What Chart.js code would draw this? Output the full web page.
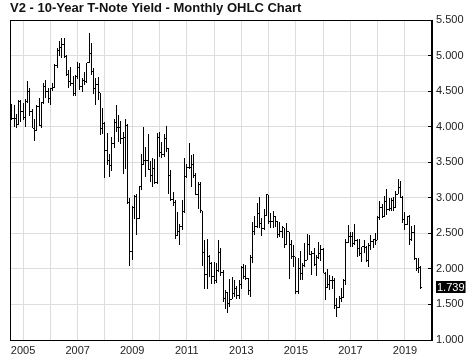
<!DOCTYPE html>
<html>
<head>
<meta charset="utf-8">
<title>V2 - 10-Year T-Note Yield - Monthly OHLC Chart</title>
<script src="https://cdn.jsdelivr.net/npm/chart.js@4.4.1/dist/chart.umd.min.js"></script>
<style>
  html, body { margin: 0; padding: 0; background: #fff; }
</style>
</head>
<body>
<canvas id="ohlcChart" width="474" height="361"></canvas>
<script>
// Monthly bars, first one is Aug 2004
const startYear = 2004;
const startMonth = 8;

const opens = [
  4.30, 4.12, 4.12, 4.03, 4.35,
  4.22, 4.13, 4.36, 4.50, 4.21, 3.98, 3.94, 4.28, 4.02, 4.34, 4.57, 4.49,
  4.39, 4.53, 4.55, 4.86, 5.07, 5.12, 5.15, 4.99, 4.74, 4.64, 4.61, 4.46,
  4.71, 4.83, 4.56, 4.65, 4.63, 4.90, 5.03, 4.78, 4.54, 4.59, 4.48, 3.97,
  4.04, 3.67, 3.53, 3.45, 3.77, 4.06, 3.99, 3.99, 3.83, 3.85, 4.01, 2.93,
  2.25, 2.87, 3.02, 2.71, 3.16, 3.47, 3.53, 3.52, 3.40, 3.31, 3.41, 3.21,
  3.85, 3.63, 3.61, 3.84, 3.69, 3.31, 2.97, 2.94, 2.47, 2.52, 2.60, 2.81,
  3.30, 3.42, 3.42, 3.47, 3.32, 3.05, 3.18, 2.82, 2.23, 1.92, 2.17, 2.08,
  1.89, 1.83, 1.98, 2.23, 1.95, 1.59, 1.67, 1.51, 1.57, 1.65, 1.72, 1.62,
  1.78, 2.02, 1.89, 1.87, 1.70, 2.16, 2.52, 2.60, 2.78, 2.64, 2.57, 2.75,
  3.04, 2.67, 2.66, 2.73, 2.67, 2.48, 2.53, 2.58, 2.35, 2.52, 2.35, 2.18,
  2.17, 1.68, 2.00, 1.94, 2.05, 2.12, 2.35, 2.20, 2.22, 2.06, 2.16, 2.21,
  2.27, 1.94, 1.74, 1.78, 1.83, 1.84, 1.49, 1.46, 1.58, 1.60, 1.84, 2.37,
  2.45, 2.45, 2.36, 2.40, 2.29, 2.21, 2.31, 2.30, 2.12, 2.33, 2.38, 2.42,
  2.40, 2.72, 2.87, 2.74, 2.95, 2.83, 2.85, 2.96, 2.86, 3.05, 3.15, 3.01,
  2.69, 2.63, 2.73, 2.41, 2.51, 2.14, 2.00, 2.02
];

const highs = [
  4.32, 4.30, 4.18, 4.37, 4.37,
  4.33, 4.39, 4.64, 4.55, 4.25, 4.11, 4.30, 4.40, 4.34, 4.61, 4.66, 4.54,
  4.55, 4.62, 4.88, 5.10, 5.20, 5.25, 5.24, 5.01, 4.80, 4.84, 4.71, 4.72,
  4.91, 4.90, 4.68, 4.77, 4.90, 5.32, 5.18, 4.82, 4.69, 4.70, 4.48, 4.26,
  4.07, 3.91, 3.62, 3.85, 4.11, 4.30, 4.16, 4.08, 3.92, 4.11, 4.04, 2.99,
  2.88, 3.04, 3.05, 3.16, 3.62, 4.00, 3.71, 3.90, 3.52, 3.56, 3.54, 3.91,
  3.93, 3.79, 3.90, 4.01, 3.70, 3.39, 3.08, 2.97, 2.80, 2.63, 2.97, 3.56,
  3.48, 3.77, 3.60, 3.62, 3.35, 3.22, 3.22, 2.82, 2.40, 2.42, 2.19, 2.10,
  2.09, 2.08, 2.40, 2.30, 1.98, 1.70, 1.68, 1.86, 1.89, 1.85, 1.76, 1.84,
  2.04, 2.07, 2.06, 1.87, 2.19, 2.66, 2.75, 2.92, 3.01, 2.72, 2.84, 3.05,
  3.04, 2.79, 2.82, 2.75, 2.68, 2.66, 2.60, 2.58, 2.65, 2.52, 2.41, 2.33,
  2.17, 2.16, 2.25, 2.08, 2.36, 2.49, 2.48, 2.25, 2.30, 2.19, 2.38, 2.33,
  2.30, 1.96, 2.00, 1.91, 1.90, 1.87, 1.59, 1.62, 1.73, 1.86, 2.42, 2.62,
  2.52, 2.52, 2.63, 2.42, 2.42, 2.31, 2.40, 2.32, 2.36, 2.48, 2.42, 2.50,
  2.75, 2.95, 2.91, 3.03, 3.13, 3.00, 3.00, 3.01, 3.10, 3.26, 3.24, 3.03,
  2.80, 2.75, 2.76, 2.60, 2.62, 2.16, 2.15, 2.04
];

const lows = [
  4.09, 4.00, 3.98, 4.03, 4.07,
  4.10, 3.99, 4.33, 4.15, 3.98, 3.80, 3.94, 4.01, 3.98, 4.32, 4.40, 4.33,
  4.30, 4.50, 4.55, 4.83, 4.99, 4.96, 4.96, 4.71, 4.55, 4.57, 4.43, 4.43,
  4.67, 4.51, 4.49, 4.59, 4.62, 4.89, 4.72, 4.46, 4.31, 4.37, 3.88, 3.89,
  3.28, 3.46, 3.29, 3.38, 3.70, 3.93, 3.78, 3.76, 3.34, 3.41, 2.91, 2.04,
  2.13, 2.70, 2.48, 2.70, 3.11, 3.46, 3.29, 3.39, 3.22, 3.15, 3.19, 3.19,
  3.57, 3.56, 3.58, 3.65, 3.06, 2.95, 2.88, 2.42, 2.46, 2.33, 2.54, 2.78,
  3.28, 3.40, 3.15, 3.28, 3.04, 2.84, 2.79, 2.04, 1.72, 1.72, 1.89, 1.79,
  1.79, 1.80, 1.96, 1.90, 1.54, 1.44, 1.38, 1.47, 1.57, 1.60, 1.58, 1.58,
  1.72, 1.86, 1.84, 1.63, 1.61, 2.08, 2.47, 2.58, 2.58, 2.46, 2.54, 2.75,
  2.63, 2.57, 2.58, 2.59, 2.43, 2.45, 2.44, 2.30, 2.33, 1.86, 2.14, 2.02,
  1.65, 1.65, 1.85, 1.84, 2.03, 2.12, 2.19, 1.91, 2.04, 1.90, 2.14, 2.11,
  1.94, 1.56, 1.73, 1.70, 1.72, 1.43, 1.32, 1.45, 1.53, 1.59, 1.77, 2.36,
  2.31, 2.31, 2.33, 2.17, 2.18, 2.10, 2.23, 2.10, 2.03, 2.26, 2.30, 2.33,
  2.40, 2.69, 2.71, 2.73, 2.76, 2.82, 2.81, 2.81, 2.85, 3.05, 2.99, 2.64,
  2.55, 2.62, 2.34, 2.39, 2.12, 1.97, 1.94, 1.72
];

const closes = [
  4.12, 4.12, 4.03, 4.35, 4.22,
  4.13, 4.36, 4.50, 4.21, 3.98, 3.94, 4.28, 4.02, 4.34, 4.57, 4.49, 4.39,
  4.53, 4.55, 4.86, 5.07, 5.12, 5.15, 4.99, 4.74, 4.64, 4.61, 4.46, 4.71,
  4.83, 4.56, 4.65, 4.63, 4.90, 5.03, 4.78, 4.54, 4.59, 4.48, 3.97, 4.04,
  3.67, 3.53, 3.45, 3.77, 4.06, 3.99, 3.99, 3.83, 3.85, 4.01, 2.93, 2.25,
  2.87, 3.02, 2.71, 3.16, 3.47, 3.53, 3.52, 3.40, 3.31, 3.41, 3.21, 3.85,
  3.63, 3.61, 3.84, 3.69, 3.31, 2.97, 2.94, 2.47, 2.52, 2.60, 2.81, 3.30,
  3.42, 3.42, 3.47, 3.32, 3.05, 3.18, 2.82, 2.23, 1.92, 2.17, 2.08, 1.89,
  1.83, 1.98, 2.23, 1.95, 1.59, 1.67, 1.51, 1.57, 1.65, 1.72, 1.62, 1.78,
  2.02, 1.89, 1.87, 1.70, 2.16, 2.52, 2.60, 2.78, 2.64, 2.57, 2.75, 3.04,
  2.67, 2.66, 2.73, 2.67, 2.48, 2.53, 2.58, 2.35, 2.52, 2.35, 2.18, 2.17,
  1.68, 2.00, 1.94, 2.05, 2.12, 2.35, 2.20, 2.22, 2.06, 2.16, 2.21, 2.27,
  1.94, 1.74, 1.78, 1.83, 1.84, 1.49, 1.46, 1.58, 1.60, 1.84, 2.37, 2.45,
  2.45, 2.36, 2.40, 2.29, 2.21, 2.31, 2.30, 2.12, 2.33, 2.38, 2.42, 2.40,
  2.72, 2.87, 2.74, 2.95, 2.83, 2.85, 2.96, 2.86, 3.05, 3.15, 3.01, 2.69,
  2.63, 2.73, 2.41, 2.51, 2.14, 2.00, 2.02, 1.739
];

// Yearly gridlines, labels on odd years only
const yearTicks = [2005, 2006, 2007, 2008, 2009, 2010, 2011, 2012,
  2013, 2014, 2015, 2016, 2017, 2018, 2019];

// Axis range
const xMin = 2004.52;
const xMax = 2019.99;
const yMin = 1.0;
const yMax = 5.5;

const FONT = "'Liberation Sans', Arial, sans-serif";

// Time of each bar in fractional years
const months = opens.map((_, i) => startYear + (startMonth - 1 + i) / 12);

/**
 * Snap the 1px high-low bars to whole pixels so they stay crisp
 */
const snapBars = {
  id: 'snapBars',
  afterDatasetsUpdate(chart) {
    chart.getDatasetMeta(0).data.forEach((bar) => {
      bar.x = Math.round(bar.x - 0.5) + 0.5;
      bar.y = Math.round(bar.y);
      bar.base = Math.round(bar.base);
    });
  }
};

/**
 * Open (left) and close (right) ticks on each high-low bar
 */
const ohlcTicks = {
  id: 'ohlcTicks',
  afterDatasetsDraw(chart) {
    const { ctx, scales: { y } } = chart;
    const bars = chart.getDatasetMeta(0).data;
    ctx.save();
    ctx.fillStyle = '#000';
    bars.forEach((bar, i) => {
      const px = bar.x - 0.5;
      const yo = Math.round(y.getPixelForValue(opens[i]) - 0.5);
      const yc = Math.round(y.getPixelForValue(closes[i]) - 0.5);
      ctx.fillRect(px - 1, yo, 1, 1);
      ctx.fillRect(px + 1, yc, 1, 1);
    });
    ctx.restore();
  }
};

/**
 * Black frame round the plot area
 */
const plotFrame = {
  id: 'plotFrame',
  afterDatasetsDraw(chart) {
    const { ctx, chartArea: a } = chart;
    ctx.save();
    ctx.strokeStyle = '#000';
    ctx.lineWidth = 1;
    ctx.strokeRect(Math.round(a.left) + 0.5, Math.round(a.top) + 0.5,
      Math.round(a.right - a.left) - 1, Math.round(a.bottom - a.top));
    ctx.restore();
  }
};

/**
 * Last price box on the right axis
 */
const lastPrice = {
  id: 'lastPrice',
  afterDraw(chart) {
    const { ctx, scales: { y } } = chart;
    const last = closes[closes.length - 1];
    const py = Math.round(y.getPixelForValue(last));
    const left = y.left + 4;
    ctx.save();
    ctx.font = '11px ' + FONT;
    const w = ctx.measureText(last.toFixed(3)).width + 2;
    ctx.fillStyle = '#000';
    ctx.fillRect(left, py - 6, w, 12);
    ctx.fillStyle = '#fff';
    ctx.textBaseline = 'middle';
    ctx.textAlign = 'left';
    ctx.fillText(last.toFixed(3), left + 1, py + 0.5);
    ctx.restore();
  }
};

const chart = new Chart(document.getElementById('ohlcChart'), {
  type: 'bar',
  data: {
    datasets: [
      {
        label: 'High-Low',
        data: months.map((m, i) => ({ x: m, y: [lows[i], highs[i]] })),
        backgroundColor: '#000',
        borderWidth: 0,
        barThickness: 1,
        inflateAmount: 0,
      },
    ],
  },
  options: {
    responsive: false,
    animation: false,
    layout: { padding: { left: 10, right: 0, top: 0, bottom: 0 } },
    plugins: {
      legend: { display: false },
      tooltip: { enabled: false },
      title: {
        display: true,
        text: 'V2 - 10-Year T-Note Yield - Monthly OHLC Chart',
        align: 'start',
        color: '#111',
        font: { family: FONT, size: 13, weight: 'bold' },
        padding: { top: 1, bottom: 3.4 },
      },
    },
    scales: {
      x: {
        type: 'linear',
        min: xMin,
        max: xMax,
        offset: false,
        grid: { color: '#dddddd', drawTicks: false, offset: false },
        border: { color: '#000' },
        afterBuildTicks: (scale) => {
          scale.ticks = yearTicks.map((v) => ({ value: v }));
        },
        ticks: {
          autoSkip: false,
          maxRotation: 0,
          padding: 4,
          color: '#222',
          font: { family: FONT, size: 11 },
          callback: (v) => (v % 2 === 1 ? String(v) : ''),
        },
        afterFit: (scale) => { scale.height = 21; },
      },
      y: {
        type: 'linear',
        position: 'right',
        min: yMin,
        max: yMax,
        grid: { color: '#dddddd', tickColor: '#000', tickLength: -4 },
        border: { color: '#000' },
        ticks: {
          stepSize: 0.5,
          padding: 8,
          color: '#222',
          font: { family: FONT, size: 11 },
          callback: (v) => Number(v).toFixed(3),
        },
        afterFit: (scale) => { scale.width = 42; },
      },
    },
  },
  plugins: [snapBars, ohlcTicks, plotFrame, lastPrice],
});
</script>
</body>
</html>
